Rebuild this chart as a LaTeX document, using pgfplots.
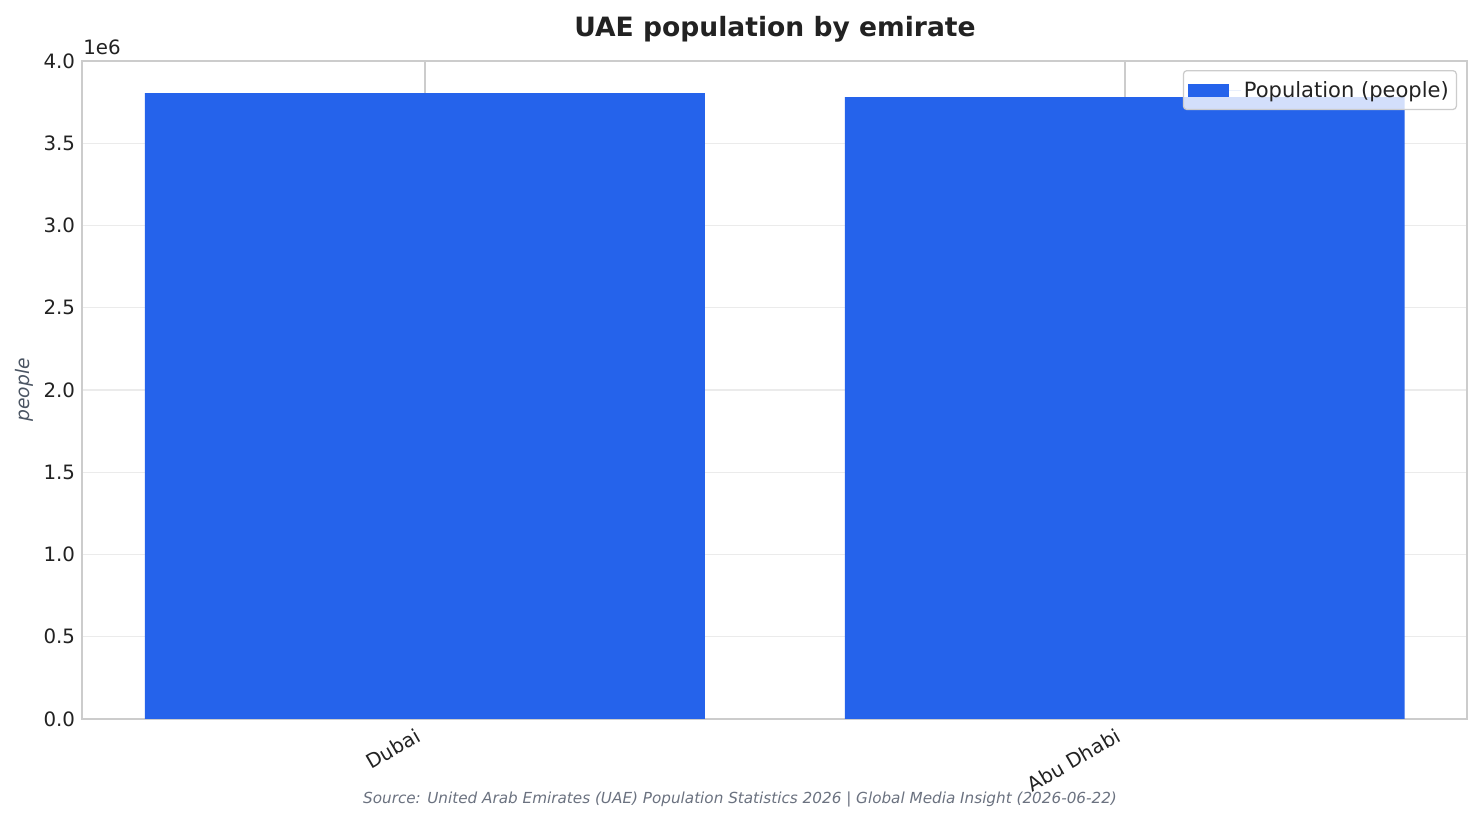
\documentclass[border=0pt]{standalone}
\usepackage{pgfplots}
\pgfplotsset{compat=1.18}
\usepackage{fontspec}
\setmainfont{DejaVu Sans}
\definecolor{barblue}{HTML}{2563EB}
\definecolor{txt}{HTML}{222222}
\definecolor{spine}{HTML}{CCCCCC}
\definecolor{gridc}{HTML}{EBEBEB}
\definecolor{srcc}{HTML}{6B7280}
\definecolor{ylab}{HTML}{4B5563}
\begin{document}
\begin{tikzpicture}
\path[use as bounding box, fill=white] (0bp,0bp) rectangle (1067.04bp,593.28bp);
\begin{axis}[
  at={(59.04bp,75.6bp)}, anchor=south west,
  scale only axis, width=997.2bp, height=473.76bp,
  xmin=-0.49, xmax=1.489, ymin=0, ymax=4000000,
  xtick={0,1}, xticklabels={Dubai,Abu Dhabi},
  ytick={0,500000,1000000,1500000,2000000,2500000,3000000,3500000,4000000},
  yticklabels={0.0,0.5,1.0,1.5,2.0,2.5,3.0,3.5,4.0},
  scaled y ticks=false,
  major tick length=0pt,
  axis line style={draw=spine, line width=1.1bp},
  xmajorgrids, ymajorgrids,
  x grid style={draw=spine, line width=1.1bp},
  y grid style={draw=gridc, line width=0.8bp},
  axis on top=false,
  ticklabel style={font=\fontsize{14.3}{16}\selectfont, text=txt},
  x tick label style={rotate=30, anchor=north east, inner sep=2bp, yshift=0.5bp, xshift=-7.5bp},
  y tick label style={xshift=-1.5bp},
  ybar, bar width=0.8,
  legend style={at={(0.9928,0.9863)}, anchor=north east, draw=spine, line width=0.9bp,
    rounded corners=2.5bp, fill=white, fill opacity=0.8, text opacity=1,
    font=\fontsize{15.2}{18}\selectfont, text=txt, inner xsep=3.5bp, inner ysep=5.5bp},
  legend cell align=left,
  legend image code/.code={\fill[barblue, fill opacity=1, sharp corners] (0bp,-4.7bp) rectangle (29.5bp,4.7bp);
     \path (0bp,0bp) -- (38bp,0bp);},
]
\addplot[fill=barblue, draw=none] coordinates {(0,3805000) (1,3781000)};
\addlegendentry{Population (people)}
\end{axis}
\node[font=\fontsize{14.3}{16}\selectfont, text=txt, anchor=south west] at (56.5bp,550bp) {1e6};
\node[font=\bfseries\fontsize{19.2}{22}\selectfont, text=txt] at (558bp,572.5bp) {UAE population by emirate};
\node[font=\itshape\fontsize{11}{13}\selectfont, text=srcc] at (532.8bp,17.3bp) {Source: United Arab Emirates (UAE) Population Statistics 2026 | Global Media Insight (2026-06-22)};
\node[font=\itshape\fontsize{13.5}{15}\selectfont, text=ylab, rotate=90] at (17.3bp,312.5bp) {people};
\end{tikzpicture}
\end{document}
